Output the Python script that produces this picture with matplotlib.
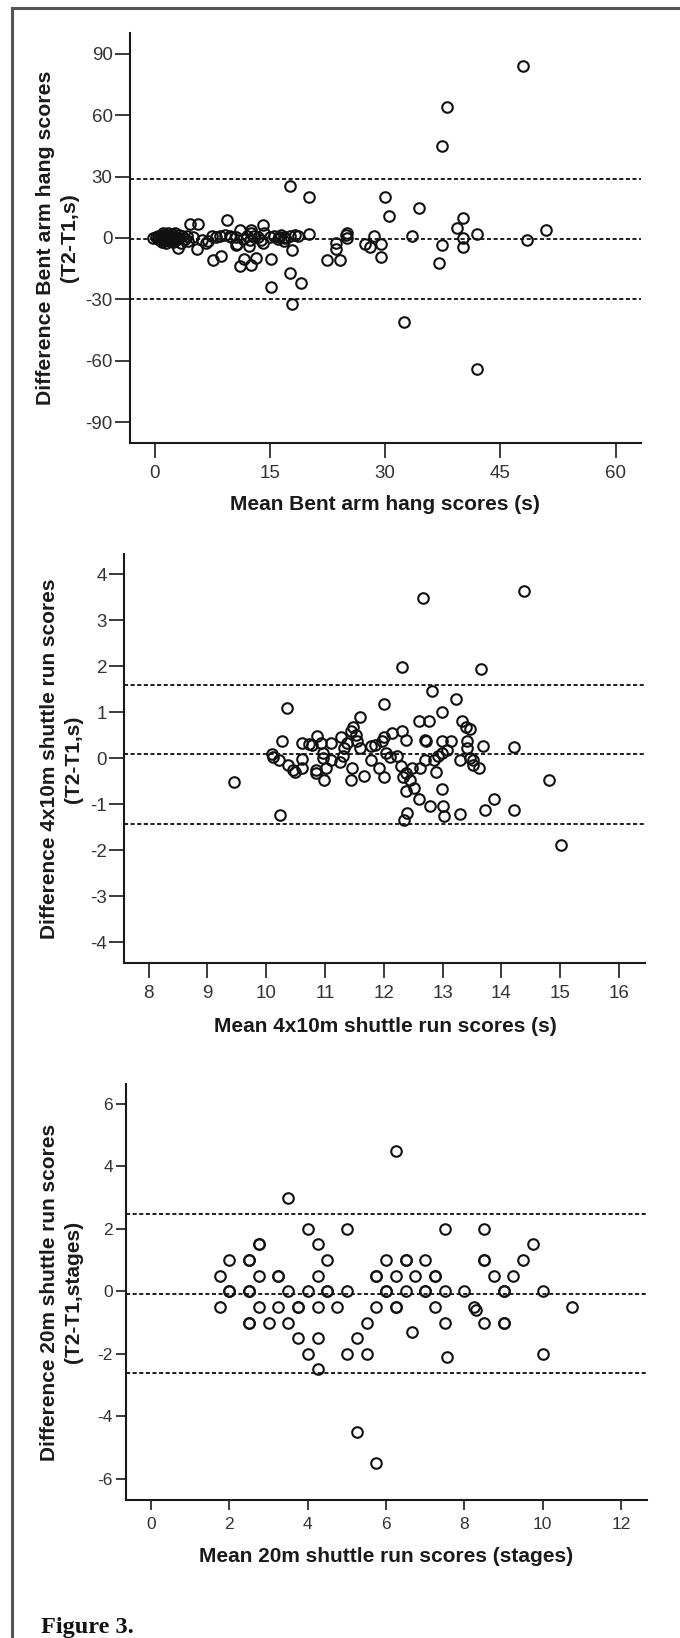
import matplotlib
matplotlib.use("Agg")
import matplotlib.pyplot as plt
from matplotlib.lines import Line2D

plt.rcParams["axes.unicode_minus"] = False

# ---------------- data ----------------
# Panel 1: Bent arm hang
bah_mean = [-0.2, 0.2, 0.4, 0.5, 0.7, 0.8, 1.0, 1.0, 1.1, 1.2, 1.3, 1.5, 1.5, 1.6, 1.8, 1.9,
            2.0, 2.1, 2.3, 2.4, 2.5, 2.7, 2.8, 3.0, 3.1, 3.2, 3.4, 3.6, 3.9, 4.2, 4.4,
            4.6, 5.7, 5.5, 5.0, 6.75, 6.2, 7.5, 7.6, 8.7, 9.4, 9.1, 10.0, 10.7, 10.6, 11.1,
            11.1, 11.7, 12.6, 13.2, 12.3, 12.4, 12.6, 12.6, 14.1, 14.3, 14.1, 13.5, 15.1,
            15.1, 15.0, 16.2, 16.8, 16.9, 17.6, 18.7, 17.6, 20.1, 20.1, 17.6, 19.0, 17.9,
            17.9, 22.5, 24.1, 23.6, 23.6, 24.9, 25.0, 25.0, 27.4, 28.0, 28.6, 29.5, 29.5,
            30.0, 30.5, 32.4, 33.5, 34.4, 37.0, 37.4, 37.4, 38.0, 39.4, 40.1, 40.1, 40.1,
            41.9, 42.0, 48.0, 48.5, 51.0,
            7.0, 8.0, 8.5, 9.8, 11.5, 12.0, 13.0, 13.8, 15.5, 16.0, 16.5, 17.0, 18.3, 10.6]
bah_diff = [0.0, 0.5, -0.5, 1.0, -1.0, 0.3, 1.5, -1.8, 2.5, -0.8, 0.6, -2.5, 1.2, 0.0, 2.2, -1.5,
            0.8, -0.3, 1.8, -2.0, 0.5, 2.6, -1.0, 0.2, -4.9, 1.5, -2.2, 0.8, -0.5, 1.2, -1.5,
            7.0, 7.0, -5.2, 0.3, -2.4, -0.8, 0.8, -10.6, -9.0, 8.9, 1.6, 0.5, -2.8, 0.5, 4.0,
            -13.8, -10.3, -13.0, -9.8, -4.1, -0.8, 2.4, 4.1, 6.5, 2.4, -2.4, 0.3, -10.1,
            -23.9, 0.5, 0.5, 0.5, -1.6, 1.1, 0.8, 25.2, 20.0, 2.1, -17.1, -22.0, -32.1,
            -5.7, -10.9, -10.6, -2.4, -5.2, 1.5, 2.4, -0.2, -2.9, -4.4, 1.1, -2.9, -9.3,
            20.0, 10.9, -41.2, 0.8, 14.8, -12.2, 44.8, -3.3, 63.8, 4.7, 9.9, 0.2, -4.4,
            -64.0, 2.0, 83.8, -1.1, 4.1,
            -1.5, 0.5, 1.2, 0.8, -0.5, 1.0, 0.8, -1.2, 1.0, -0.5, 1.5, 0.2, 1.5, -3.3]
bah_limits = [28.9, -0.4, -29.8]

# Panel 2: 4x10m shuttle run
shr_mean = [14.38, 12.66, 12.31, 13.66, 12.81, 13.23, 12.0, 10.36, 12.98, 11.59, 12.59, 12.77,
            13.32, 13.4, 13.47, 11.48, 11.44, 12.31, 12.14, 12.38, 12.7, 12.72, 12.99, 13.14,
            13.42, 13.69, 14.21, 13.42, 10.26, 10.61, 10.72, 10.78, 10.87, 10.93, 11.1,
            11.27, 11.37, 11.33, 11.53, 11.55, 11.59, 11.78, 11.85, 11.96, 12.01, 10.09,
            10.12, 10.21, 10.37, 10.49, 10.45, 10.61, 10.61, 10.84, 10.85, 10.96, 10.96,
            10.99, 11.02, 11.1, 11.26, 11.3, 11.46, 11.44, 11.67, 11.78, 11.92, 12.0, 12.03,
            12.11, 12.22, 12.29, 12.33, 12.37, 12.48, 12.44, 12.51, 12.37, 12.59, 12.4,
            12.34, 12.79, 12.62, 12.7, 12.85, 12.88, 12.92, 12.99, 13.07, 12.99, 13.0, 13.02,
            13.29, 13.29, 13.47, 13.51, 13.51, 13.62, 13.72, 13.88, 14.21, 14.8, 15.02,
            9.45, 10.23]
shr_diff = [3.64, 3.48, 1.99, 1.94, 1.46, 1.29, 1.18, 1.08, 1.0, 0.89, 0.80, 0.80,
            0.80, 0.68, 0.63, 0.67, 0.58, 0.6, 0.55, 0.39, 0.4, 0.37, 0.37, 0.37,
            0.37, 0.27, 0.24, 0.22, 0.37, 0.33, 0.31, 0.29, 0.49, 0.33, 0.34,
            0.47, 0.33, 0.22, 0.51, 0.37, 0.22, 0.26, 0.29, 0.37, 0.45, 0.08,
            0.03, -0.03, -0.14, -0.31, -0.25, -0.02, -0.21, -0.25, -0.32, 0.11, 0.0,
            -0.47, -0.21, -0.03, -0.09, 0.04, -0.21, -0.47, -0.38, -0.03, -0.21, -0.41, 0.11,
            0.03, 0.04, -0.18, -0.4, -0.32, -0.21, -0.47, -0.65, -0.72, -0.89, -1.19,
            -1.34, -1.05, -0.21, -0.03, -0.03, -0.29, 0.04, 0.11, 0.18, -0.68, -1.05, -1.25,
            -0.03, -1.21, 0.0, -0.03, -0.14, -0.21, -1.12, -0.89, -1.12, -0.47, -1.88,
            -0.52, -1.24]
shr_limits = [1.6, 0.09, -1.42]

# Panel 3: 20m shuttle run (stages)
srt_mean = [3.5, 6.25, 4.0, 5.0, 7.5, 8.5, 2.75, 2.75, 4.25, 9.75,
            2.0, 2.5, 2.5, 4.5, 6.0, 6.5, 6.5, 7.0, 8.5, 8.5, 9.5,
            1.75, 2.75, 3.25, 3.25, 4.25, 5.75, 5.75, 6.25, 6.75, 7.25, 7.25, 8.75, 9.25,
            2.0, 2.0, 2.5, 2.5, 3.5, 4.0, 4.5, 4.5, 5.0, 6.0, 6.0, 6.5, 7.0, 7.0, 7.5, 8.0,
            9.0, 9.0, 10.0,
            1.75, 2.75, 3.25, 3.75, 3.75, 4.25, 4.75, 5.75, 6.25, 6.25, 7.25, 8.25, 8.3, 10.75,
            2.5, 2.5, 3.0, 3.5, 5.5, 7.5, 8.5, 9.0, 9.0,
            6.66, 3.75, 4.25, 5.25,
            4.0, 5.0, 5.5, 10.0, 7.55,
            4.25, 5.25, 5.75]
srt_diff = [3.0, 4.5, 2.0, 2.0, 2.0, 2.0, 1.5, 1.5, 1.5, 1.5,
            1.0, 1.0, 1.0, 1.0, 1.0, 1.0, 1.0, 1.0, 1.0, 1.0, 1.0,
            0.5, 0.5, 0.5, 0.5, 0.5, 0.5, 0.5, 0.5, 0.5, 0.5, 0.5, 0.5, 0.5,
            0.0, 0.0, 0.0, 0.0, 0.0, 0.0, 0.0, 0.0, 0.0, 0.0, 0.0, 0.0, 0.0, 0.0, 0.0, 0.0,
            0.0, 0.0, 0.0,
            -0.5, -0.5, -0.5, -0.5, -0.5, -0.5, -0.5, -0.5, -0.5, -0.5, -0.5, -0.5, -0.6, -0.5,
            -1.0, -1.0, -1.0, -1.0, -1.0, -1.0, -1.0, -1.0, -1.0,
            -1.3, -1.5, -1.5, -1.5,
            -2.0, -2.0, -2.0, -2.0, -2.1,
            -2.48, -4.5, -5.5]
srt_limits = [2.48, -0.08, -2.6]

bah_xticks = [0, 15, 30, 45, 60]
bah_yticks = [-90, -60, -30, 0, 30, 60, 90]
shr_xticks = [8, 9, 10, 11, 12, 13, 14, 15, 16]
shr_yticks = [-4, -3, -2, -1, 0, 1, 2, 3, 4]
srt_xticks = [0, 2, 4, 6, 8, 10, 12]
srt_yticks = [-6, -4, -2, 0, 2, 4, 6]

# ---------------- layout ----------------
W, H = 680, 1638
fig = plt.figure(figsize=(W / 100, H / 100), dpi=100)
fig.patch.set_facecolor("white")

SANS = ["Liberation Sans", "DejaVu Sans"]


def px_axes(l, t, r, b):
    return fig.add_axes([l / W, 1 - b / H, (r - l) / W, (b - t) / H])


def style(ax, xlim, ylim, xt, yt, fs, ticklen):
    ax.set_xlim(*xlim)
    ax.set_ylim(*ylim)
    ax.set_xticks(xt)
    ax.set_yticks(yt)
    for s in ["top", "right"]:
        ax.spines[s].set_visible(False)
    for s in ["left", "bottom"]:
        ax.spines[s].set_linewidth(1.5)
        ax.spines[s].set_color("#1a1a1a")
    ax.tick_params(axis="both", direction="out", length=ticklen, width=1.2,
                   color="#1a1a1a", labelcolor="#333333", labelsize=fs)
    ax.tick_params(axis="y", pad=2)
    ax.tick_params(axis="x", pad=5)
    for lab in ax.get_xticklabels() + ax.get_yticklabels():
        lab.set_family(SANS)
    ax.set_facecolor("white")


def scatter(ax, x, y, limits):
    for v in limits:
        ax.axhline(v, color="#1e1e1e", lw=1.4, ls=(0, (2.1, 1.3)), zorder=1)
    ax.plot(x, y, ls="none", marker="o", ms=7.6, mfc="none", mec="#111111",
            mew=1.5, zorder=3, clip_on=False)


# Panel 1
ax1 = px_axes(130, 33, 641, 443)
scatter(ax1, bah_mean, bah_diff, bah_limits)
style(ax1, (-3.2, 63.3), (-100.1, 100.1), bah_xticks, bah_yticks, 13.5, 10.5)

# Panel 2
ax2 = px_axes(124.5, 554, 645, 963)
scatter(ax2, shr_mean, shr_diff, shr_limits)
style(ax2, (7.59, 16.44), (-4.45, 4.435), shr_xticks, shr_yticks, 13.5, 10.5)

# Panel 3
ax3 = px_axes(126, 1084, 647, 1500)
scatter(ax3, srt_mean, srt_diff, srt_limits)
style(ax3, (-0.64, 12.66), (-6.67, 6.63), srt_xticks, srt_yticks, 12.5, 7.5)


def ftext(x, y, s, **kw):
    fig.text(x / W, 1 - y / H, s, **kw)


lab_kw = dict(color="#1a1a1a", fontweight="bold", ha="center", va="center", family=SANS)
# Panel 1 labels
ftext(385, 505, "Mean Bent arm hang scores (s)", fontsize=15, **lab_kw)
ftext(45.5, 238, "Difference Bent arm hang scores", fontsize=15.3, rotation=90, **lab_kw)
ftext(69.5, 238, "(T2-T1,s)", fontsize=15.3, rotation=90, **lab_kw)
# Panel 2 labels
ftext(385, 1026, "Mean 4x10m shuttle run scores (s)", fontsize=15, **lab_kw)
ftext(50, 759, "Difference 4x10m shuttle run scores", fontsize=15, rotation=90, **lab_kw)
ftext(74, 759, "(T2-T1,s)", fontsize=15, rotation=90, **lab_kw)
# Panel 3 labels
ftext(386, 1556, "Mean 20m shuttle run scores (stages)", fontsize=15, **lab_kw)
ftext(50, 1292, "Difference 20m shuttle run scores", fontsize=15, rotation=90, **lab_kw)
ftext(74, 1292, "(T2-T1,stages)", fontsize=15, rotation=90, **lab_kw)

# Caption
ftext(41, 1633, "Figure 3.", family=["Liberation Serif", "DejaVu Serif"], fontsize=17.5,
      fontweight="bold", color="#111111", ha="left", va="baseline")

# Frame (left and top border)
fig.add_artist(Line2D([12 / W, 12 / W], [0, 1 - 8 / H], color="#555555", lw=2.2,
                      transform=fig.transFigure))
fig.add_artist(Line2D([12 / W, 1], [1 - 8 / H, 1 - 8 / H], color="#555555", lw=2.2,
                      transform=fig.transFigure))

fig.savefig("out.png", dpi=100)
